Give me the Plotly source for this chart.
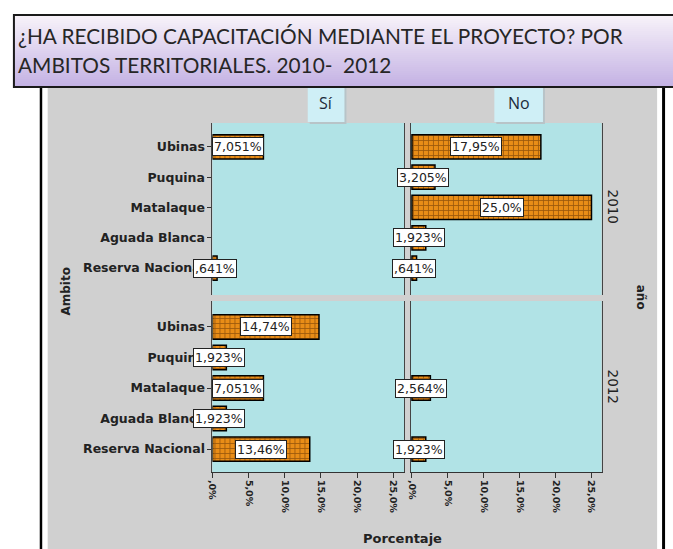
import plotly.graph_objects as go

W, H = 673, 549

# ---------------- data ----------------
categories = ["Ubinas", "Puquina", "Matalaque", "Aguada Blanca", "Reserva Nacional"]
years = ["2010", "2012"]
answers = ["Sí", "No"]
si_2010 = [7.051, None, None, None, 0.641]
no_2010 = [17.95, 3.205, 25.0, 1.923, 0.641]
si_2012 = [14.74, 1.923, 7.051, 1.923, 13.46]
no_2012 = [None, None, 2.564, None, 1.923]
tick_vals = [0, 5, 10, 15, 20, 25]
tick_text = [",0%", "5,0%", "10,0%", "15,0%", "20,0%", "25,0%"]
title_line1 = "¿HA RECIBIDO CAPACITACIÓN MEDIANTE EL PROYECTO? POR"
title_line2 = "AMBITOS TERRITORIALES. 2010-  2012"

panels = [  # (values, row, col)
    (si_2010, 0, 0), (no_2010, 0, 1),
    (si_2012, 1, 0), (no_2012, 1, 1),
]


def px(x):
    return x / W


def py(y):
    return 1 - y / H


def fmt(v):
    s = f"{v:.4g}"
    if "." not in s:
        s += ".0"
    if s.startswith("0."):
        s = s[1:]
    return s.replace(".", ",") + "%"


# ---------------- layout geometry ----------------
col_pix = [(209, 402), (409, 601)]
row_pix = [(123, 295), (301, 472)]
col_dom = [[px(a), px(b)] for a, b in col_pix]
row_dom = [[py(b), py(a)] for a, b in row_pix]
col_range = [[0, 26.5], [-0.14, 26.4]]
row_range = [[4.89, -0.79], [4.75, -0.85]]

ORANGE = "#e98d17"
CYAN = "#b1e3e6"
GREY = "#d0d0d0"
DARK = "#222222"
FONT = "DejaVu Sans"

fig = go.Figure()
annotations = []
layout_axes = {}

for i, (vals, r, c) in enumerate(panels):
    n = i + 1
    xa = "x" if n == 1 else f"x{n}"
    ya = "y" if n == 1 else f"y{n}"
    ypos = list(range(len(categories)))
    fig.add_trace(go.Bar(
        x=vals, y=ypos, orientation="h", width=0.8,
        xaxis=xa, yaxis=ya,
        marker=dict(
            color=ORANGE,
            line=dict(color="black", width=1.5),
            pattern=dict(shape="+", fgcolor="#4a2200", bgcolor=ORANGE,
                         size=5, solidity=0.3),
        ),
        hoverinfo="skip", showlegend=False,
    ))
    for yv, v in zip(ypos, vals):
        if v is None:
            continue
        annotations.append(dict(
            x=v / 2, y=yv, xref=xa, yref=ya, text=fmt(v), showarrow=False,
            xanchor="center", yanchor="middle",
            font=dict(family=FONT, size=12.5, color=DARK),
            bgcolor="white", bordercolor=DARK, borderwidth=1, borderpad=1,
        ))
    xk = "xaxis" if n == 1 else f"xaxis{n}"
    yk = "yaxis" if n == 1 else f"yaxis{n}"
    layout_axes[xk] = dict(
        domain=col_dom[c], range=col_range[c], anchor=ya,
        showgrid=False, zeroline=False,
        showline=(r == 1), linecolor="#333", linewidth=1,
        ticks="outside" if r == 1 else "", ticklen=5, tickcolor="#333",
        tickvals=tick_vals, ticktext=tick_text, tickangle=90,
        showticklabels=(r == 1),
        tickfont=dict(family=FONT, size=9.5, color=DARK, weight="bold"),
        fixedrange=True,
    )
    layout_axes[yk] = dict(
        domain=row_dom[r], range=row_range[r], anchor=xa,
        showgrid=False, zeroline=False,
        showline=True, mirror=True, linecolor="#444", linewidth=1,
        ticks="outside" if c == 0 else "", ticklen=4, tickcolor="#333",
        tickvals=list(range(len(categories))), ticktext=categories,
        showticklabels=(c == 0),
        tickfont=dict(family=FONT, size=12.5, color=DARK, weight="bold"),
        fixedrange=True,
    )

shapes = []
# grey chart background and black side rules
shapes.append(dict(type="rect", xref="paper", yref="paper", x0=px(43), x1=px(657),
                   y0=py(549), y1=py(86), fillcolor=GREY, line=dict(width=0), layer="below"))
for x0, x1 in [(35, 37.5), (662, 665)]:
    shapes.append(dict(type="rect", xref="paper", yref="paper", x0=px(x0), x1=px(x1),
                       y0=py(549), y1=py(86), fillcolor="black", line=dict(width=0), layer="below"))
# cyan panel backgrounds
for a, b in col_pix:
    for t, u in row_pix:
        shapes.append(dict(type="rect", xref="paper", yref="paper", x0=px(a), x1=px(b),
                           y0=py(u), y1=py(t), fillcolor=CYAN, line=dict(width=0),
                           layer="below"))

# facet header boxes
for (x0, x1), lab in zip([(305, 342), (493, 542)], answers):
    shapes.append(dict(type="rect", xref="paper", yref="paper", x0=px(x0 + 2), x1=px(x1 + 2),
                       y0=py(124), y1=py(88), fillcolor="#b8c4c8", line=dict(width=0)))
    shapes.append(dict(type="rect", xref="paper", yref="paper", x0=px(x0), x1=px(x1),
                       y0=py(122), y1=py(86), fillcolor="#cfeff6", line=dict(width=0)))
    annotations.append(dict(x=px((x0 + x1) / 2), y=py(103), xref="paper", yref="paper",
                            text=lab, showarrow=False, xanchor="center", yanchor="middle",
                            font=dict(family="Open Sans", size=16, color="#1c2a3a")))

# title box with vertical gradient
t0, t1 = 15, 87
nstr = 36
c_top = (247, 242, 249)
c_bot = (196, 178, 228)
for k in range(nstr):
    f = k / (nstr - 1)
    col = tuple(int(round(a + (b - a) * f)) for a, b in zip(c_top, c_bot))
    ya0 = t0 + (t1 - t0) * k / nstr
    ya1 = t0 + (t1 - t0) * (k + 1) / nstr
    shapes.append(dict(type="rect", xref="paper", yref="paper", x0=px(8), x1=1.0,
                       y0=py(ya1 + 0.5), y1=py(ya0), fillcolor=f"rgb{col}", line=dict(width=0)))
shapes.append(dict(type="rect", xref="paper", yref="paper", x0=px(9), x1=px(690),
                   y0=py(t1), y1=py(t0), fillcolor="rgba(0,0,0,0)",
                   line=dict(color="#1a1a1a", width=2)))

for txt, yc in [(title_line1, 36), (title_line2, 64)]:
    annotations.append(dict(x=px(11), y=py(yc), xref="paper", yref="paper", text=txt,
                            showarrow=False, xanchor="left", yanchor="middle",
                            font=dict(family="Lato", size=20.8, color="#262626")))

# row labels and axis titles
for yr, yc in zip(years, [207, 387]):
    annotations.append(dict(x=px(613), y=py(yc), xref="paper", yref="paper", text=yr,
                            showarrow=False, textangle=90, xanchor="center", yanchor="middle",
                            font=dict(family=FONT, size=13.5, color=DARK)))
annotations.append(dict(x=px(641), y=py(297), xref="paper", yref="paper", text="año",
                        showarrow=False, textangle=90, xanchor="center", yanchor="middle",
                        font=dict(family=FONT, size=12, color=DARK, weight="bold")))
annotations.append(dict(x=px(61), y=py(292), xref="paper", yref="paper", text="Ambito",
                        showarrow=False, textangle=-90, xanchor="center", yanchor="middle",
                        font=dict(family=FONT, size=12, color=DARK, weight="bold")))
annotations.append(dict(x=px(400), y=py(538), xref="paper", yref="paper", text="Porcentaje",
                        showarrow=False, xanchor="center", yanchor="middle",
                        font=dict(family=FONT, size=13, color=DARK, weight="bold")))

fig.update_layout(
    width=W, height=H, margin=dict(l=0, r=0, t=0, b=0),
    paper_bgcolor="white", plot_bgcolor=CYAN,
    showlegend=False, bargap=0.2,
    shapes=shapes, annotations=annotations,
    **layout_axes,
)

fig.write_html(
    "out.html",
    config={"displayModeBar": False},
    post_script="document.body.style.margin='0';document.body.style.padding='0';"
                "document.body.style.overflow='hidden';",
)
